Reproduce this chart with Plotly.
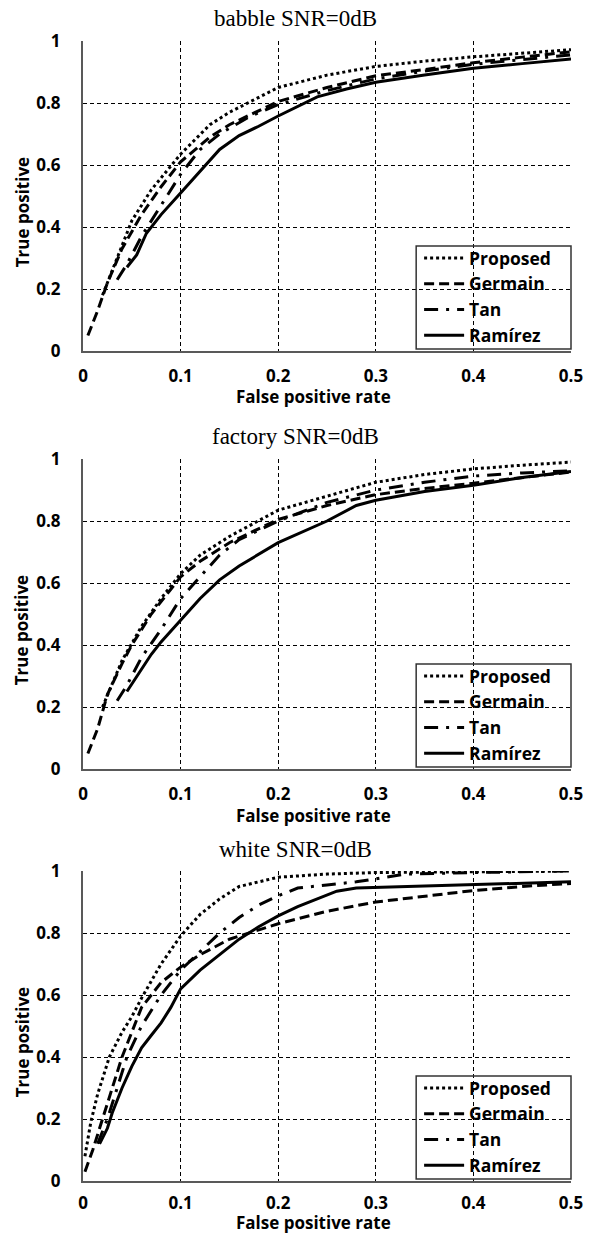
import plotly.graph_objects as go

# ---------------- data ----------------
series_names = ["Proposed", "Germain", "Tan", "Ramírez"]
panel_titles = ["babble SNR=0dB", "factory SNR=0dB", "white SNR=0dB"]
x_ticks = [0, 0.1, 0.2, 0.3, 0.4, 0.5]
x_tick_labels = ["0", "0.1", "0.2", "0.3", "0.4", "0.5"]
y_ticks = [0, 0.2, 0.4, 0.6, 0.8, 1.0]
y_tick_labels = ["0", "0.2", "0.4", "0.6", "0.8", "1"]

# babble
babble_proposed_x = [0.02, 0.04, 0.05, 0.07, 0.1, 0.13, 0.15, 0.2, 0.25, 0.3, 0.35, 0.4, 0.45, 0.5]
babble_proposed_y = [0.18, 0.34, 0.42, 0.52, 0.635, 0.73, 0.77, 0.85, 0.89, 0.918, 0.935, 0.949, 0.961, 0.972]
babble_germain_x = [0.005, 0.015, 0.025, 0.04, 0.06, 0.08, 0.1, 0.13, 0.15, 0.2, 0.25, 0.3, 0.35, 0.4, 0.45, 0.5]
babble_germain_y = [0.05, 0.13, 0.22, 0.33, 0.44, 0.53, 0.61, 0.69, 0.73, 0.805, 0.85, 0.888, 0.908, 0.93, 0.948, 0.965]
babble_tan_x = [0.035, 0.045, 0.06, 0.08, 0.1, 0.12, 0.14, 0.17, 0.2, 0.25, 0.3, 0.35, 0.4, 0.45, 0.5]
babble_tan_y = [0.23, 0.28, 0.37, 0.47, 0.57, 0.65, 0.70, 0.755, 0.795, 0.84, 0.878, 0.903, 0.925, 0.94, 0.955]
babble_ramirez_x = [0.045, 0.055, 0.065, 0.08, 0.1, 0.12, 0.14, 0.16, 0.18, 0.2, 0.22, 0.24, 0.27, 0.3, 0.35, 0.4, 0.45, 0.5]
babble_ramirez_y = [0.27, 0.31, 0.38, 0.44, 0.51, 0.58, 0.65, 0.695, 0.725, 0.758, 0.79, 0.82, 0.845, 0.867, 0.89, 0.912, 0.927, 0.942]

# factory
factory_proposed_x = [0.02, 0.04, 0.06, 0.08, 0.1, 0.12, 0.15, 0.2, 0.25, 0.3, 0.35, 0.4, 0.45, 0.5]
factory_proposed_y = [0.2, 0.35, 0.46, 0.55, 0.63, 0.69, 0.75, 0.835, 0.88, 0.925, 0.95, 0.968, 0.98, 0.99]
factory_germain_x = [0.005, 0.015, 0.025, 0.04, 0.05, 0.07, 0.09, 0.1, 0.12, 0.15, 0.2, 0.25, 0.3, 0.35, 0.4, 0.45, 0.5]
factory_germain_y = [0.05, 0.13, 0.24, 0.34, 0.40, 0.50, 0.58, 0.62, 0.67, 0.73, 0.805, 0.85, 0.885, 0.905, 0.922, 0.94, 0.958]
factory_tan_x = [0.035, 0.045, 0.06, 0.08, 0.1, 0.12, 0.14, 0.16, 0.2, 0.25, 0.3, 0.35, 0.4, 0.45, 0.5]
factory_tan_y = [0.22, 0.27, 0.36, 0.45, 0.55, 0.62, 0.69, 0.74, 0.80, 0.86, 0.9, 0.925, 0.945, 0.955, 0.962]
factory_ramirez_x = [0.045, 0.06, 0.07, 0.08, 0.1, 0.12, 0.14, 0.16, 0.2, 0.25, 0.28, 0.3, 0.35, 0.4, 0.45, 0.5]
factory_ramirez_y = [0.25, 0.32, 0.37, 0.41, 0.48, 0.55, 0.61, 0.655, 0.73, 0.80, 0.85, 0.867, 0.895, 0.915, 0.94, 0.96]

# white
white_proposed_x = [0.002, 0.008, 0.015, 0.027, 0.04, 0.05, 0.06, 0.08, 0.1, 0.12, 0.14, 0.16, 0.2, 0.25, 0.3, 0.4, 0.5]
white_proposed_y = [0.08, 0.19, 0.28, 0.40, 0.48, 0.53, 0.59, 0.70, 0.79, 0.86, 0.91, 0.95, 0.98, 0.99, 0.995, 0.998, 1.0]
white_germain_x = [0.002, 0.01, 0.02, 0.03, 0.04, 0.05, 0.06, 0.08, 0.1, 0.12, 0.15, 0.2, 0.25, 0.3, 0.35, 0.4, 0.45, 0.5]
white_germain_y = [0.03, 0.1, 0.2, 0.3, 0.4, 0.48, 0.56, 0.64, 0.69, 0.73, 0.78, 0.83, 0.87, 0.9, 0.918, 0.937, 0.95, 0.96]
white_tan_x = [0.015, 0.025, 0.035, 0.045, 0.06, 0.08, 0.1, 0.12, 0.14, 0.16, 0.18, 0.2, 0.22, 0.25, 0.28, 0.3, 0.33, 0.4, 0.5]
white_tan_y = [0.12, 0.2, 0.3, 0.4, 0.5, 0.6, 0.68, 0.74, 0.8, 0.85, 0.89, 0.92, 0.945, 0.955, 0.965, 0.975, 0.99, 0.995, 1.0]
white_ramirez_x = [0.017, 0.025, 0.03, 0.04, 0.05, 0.06, 0.07, 0.08, 0.09, 0.1, 0.12, 0.14, 0.16, 0.18, 0.2, 0.22, 0.24, 0.26, 0.28, 0.3, 0.35, 0.4, 0.45, 0.5]
white_ramirez_y = [0.12, 0.17, 0.22, 0.30, 0.37, 0.43, 0.47, 0.51, 0.56, 0.62, 0.68, 0.73, 0.78, 0.82, 0.855, 0.885, 0.91, 0.935, 0.945, 0.947, 0.95, 0.955, 0.96, 0.965]

panels = [
    [(babble_proposed_x, babble_proposed_y), (babble_germain_x, babble_germain_y),
     (babble_tan_x, babble_tan_y), (babble_ramirez_x, babble_ramirez_y)],
    [(factory_proposed_x, factory_proposed_y), (factory_germain_x, factory_germain_y),
     (factory_tan_x, factory_tan_y), (factory_ramirez_x, factory_ramirez_y)],
    [(white_proposed_x, white_proposed_y), (white_germain_x, white_germain_y),
     (white_tan_x, white_tan_y), (white_ramirez_x, white_ramirez_y)],
]

# ---------------- styling ----------------
W, H = 595, 1233
ML, MR, MT, MB = 83, 14, 41, 52
PH = H - MT - MB
PW = W - ML - MR
dashes = ["3px,3px", "10px,5px", "14px,8px,3px,8px", "solid"]
tick_font = dict(family="Open Sans", size=17, color="black", weight="bold")
label_font = dict(family="Open Sans", size=17, color="black", weight="bold")
title_font = dict(family="Liberation Serif", size=23, color="black")

plot_tops = [41, 459, 871]  # page-pixel top of each plot area
plot_h = 310

def py(pix):  # page pixel -> paper y
    return (H - MB - pix) / PH

def px(pix):  # page pixel -> paper x
    return (pix - ML) / PW

fig = go.Figure()
legend_names = ["legend", "legend2", "legend3"]
annotations = []
shapes = []
for p, data in enumerate(panels):
    ax = "" if p == 0 else str(p + 1)
    for s, (xs, ys) in enumerate(data):
        fig.add_trace(go.Scatter(
            x=xs, y=ys, mode="lines", name=series_names[s],
            line=dict(color="black", width=3, dash=dashes[s]),
            xaxis="x" + ax, yaxis="y" + ax, legend=legend_names[p],
            showlegend=True,
        ))
    top = plot_tops[p]
    bottom = top + plot_h
    dom = [max(0, py(bottom)), min(1, py(top))]
    common = dict(
        showgrid=True, gridcolor="black", gridwidth=1, griddash="4px,3px",
        showline=True, linecolor="#595959", linewidth=2, zeroline=False,
        ticks="", tickfont=tick_font, fixedrange=True,
    )
    fig.update_layout(**{
        "xaxis" + ax: dict(common, domain=[0, 1], range=[0, 0.5], tickvals=x_ticks,
                           ticktext=x_tick_labels, anchor="y" + ax,
                           ticklabelstandoff=(9 if p < 2 else 6)),
        "yaxis" + ax: dict(common, domain=dom, range=[0, 1], tickvals=y_ticks,
                           ticktext=y_tick_labels, anchor="x" + ax, ticklabelstandoff=17),
    })
    # legend entries (transparent, no border) + separate frame
    fig.update_layout(**{
        legend_names[p]: dict(
            x=px(426), xanchor="left", y=py(top + 199), yanchor="top",
            xref="paper", yref="paper",
            bgcolor="rgba(0,0,0,0)", borderwidth=0,
            font=dict(family="Open Sans", size=17.5, color="black", weight="bold"),
            tracegroupgap=0, itemwidth=40,
        )
    })
    shapes.append(dict(type="rect", xref="paper", yref="paper",
                       x0=px(423), x1=px(581), y0=py(top + 308), y1=py(top + 205),
                       line=dict(color="#333333", width=1.5), fillcolor="rgba(0,0,0,0)",
                       layer="above"))
    annotations.append(dict(text=panel_titles[p], x=px(300), y=py(top - 22),
                            xref="paper", yref="paper", showarrow=False,
                            font=title_font, xanchor="center", yanchor="middle"))
    annotations.append(dict(text="False positive rate", x=px(318),
                            y=py(bottom + (46 if p < 2 else 42)),
                            xref="paper", yref="paper", showarrow=False,
                            font=label_font, xanchor="center", yanchor="middle"))
    annotations.append(dict(text="True positive", x=px(21), y=py(top + 171),
                            xref="paper", yref="paper", showarrow=False, textangle=-90,
                            font=label_font, xanchor="center", yanchor="middle"))

fig.update_layout(
    width=W, height=H, autosize=False, margin=dict(l=ML, r=MR, t=MT, b=MB),
    paper_bgcolor="white", plot_bgcolor="white",
    annotations=annotations, shapes=shapes,
)
fig.write_html(
    "out.html",
    config={"responsive": False, "displayModeBar": False},
    post_script="document.body.style.margin='0';document.body.style.overflow='hidden';",
)
